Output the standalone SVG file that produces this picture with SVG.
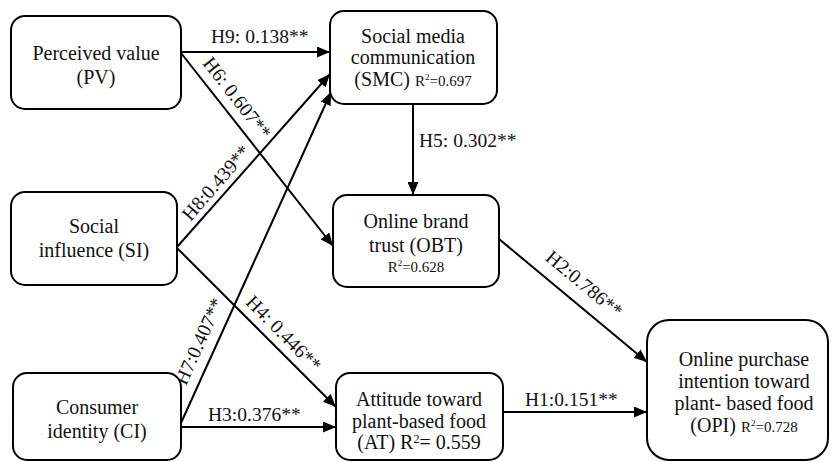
<svg xmlns="http://www.w3.org/2000/svg" width="832" height="462" viewBox="0 0 832 462">
  <style>
    .box { fill: #fff; stroke: #000; stroke-width: 2; }
    text { font-family: 'Liberation Serif', 'Times New Roman', 'DejaVu Serif', serif; font-size: 20px; fill: #111; }
    .t { text-anchor: middle; }
    .lbl { font-size: 19.5px; }
    .sm { font-size: 15px; }
    .edge { stroke: #000; stroke-width: 2; fill: none; marker-end: url(#arrow); }
  </style>
  <defs>
    <marker id="arrow" markerUnits="userSpaceOnUse" markerWidth="13" markerHeight="11" refX="13" refY="5.5" orient="auto">
      <path d="M0,0 L13,5.5 L0,11 z" fill="#000"/>
    </marker>
  </defs>
  <rect width="832" height="462" fill="#fff"/>

  <!-- path connectors with their coefficient labels -->
  <g id="connectors">
    <path class="edge" d="M181,52 L330,52"/>
    <path class="edge" d="M181,53 L333,246"/>
    <path class="edge" d="M177,247 L330,74"/>
    <path class="edge" d="M181,423 L331,92"/>
    <path class="edge" d="M177,248 L336,407"/>
    <path class="edge" d="M181,427 L336,427"/>
    <path class="edge" d="M413,104 L413,195"/>
    <path class="edge" d="M499,239 L647,362"/>
    <path class="edge" d="M503,412 L647,412"/>

    <text class="lbl" x="211" y="43">H9: 0.138**</text>
    <text class="lbl" text-anchor="middle" transform="translate(232,102) rotate(52)">H6: 0.607**</text>
    <text class="lbl" text-anchor="middle" transform="translate(221,187) rotate(-49)">H8:0.439**</text>
    <text class="lbl" text-anchor="middle" transform="translate(205,344) rotate(-65.7)">H7:0.407**</text>
    <text class="lbl" text-anchor="middle" transform="translate(279,338) rotate(45.4)">H4: 0.446**</text>
    <text class="lbl" x="208" y="421">H3:0.376**</text>
    <text class="lbl" x="419" y="147">H5: 0.302**</text>
    <text class="lbl" text-anchor="middle" transform="translate(580,289) rotate(39.7)">H2:0.786**</text>
    <text class="lbl" x="525" y="406">H1:0.151**</text>
  </g>

  <g id="PV">
    <rect class="box" x="11" y="16" width="170" height="93" rx="14"/>
    <text class="t" x="96" y="60">Perceived value</text>
    <text class="t" x="96" y="84">(PV)</text>
  </g>

  <g id="SMC">
    <rect class="box" x="330" y="11" width="167" height="93" rx="14"/>
    <text class="t" x="413" y="43" font-size="18.5">Social media</text>
    <text class="t" x="413" y="64" font-size="18.5">communication</text>
    <text class="t" x="413" y="86" font-size="18.5">(SMC) <tspan class="sm">R<tspan font-size="9" dy="-6">2</tspan><tspan dy="6">=0.697</tspan></tspan></text>
  </g>

  <g id="SI">
    <rect class="box" x="11" y="192" width="166" height="93" rx="14"/>
    <text class="t" x="94" y="233">Social</text>
    <text class="t" x="94" y="257">influence (SI)</text>
  </g>

  <g id="OBT">
    <rect class="box" x="333" y="195" width="166" height="92" rx="14"/>
    <text class="t" x="416" y="228">Online brand</text>
    <text class="t" x="416" y="252">trust (OBT)</text>
    <text class="t sm" x="416" y="272">R<tspan font-size="9" dy="-6">2</tspan><tspan dy="6">=0.628</tspan></text>
  </g>

  <g id="CI">
    <rect class="box" x="13" y="373" width="168" height="87" rx="14"/>
    <text class="t" x="97" y="414">Consumer</text>
    <text class="t" x="97" y="438">identity (CI)</text>
  </g>

  <g id="AT">
    <rect class="box" x="336" y="373" width="167" height="87" rx="14"/>
    <text class="t" x="419" y="406" font-size="18">Attitude toward</text>
    <text class="t" x="419" y="428" font-size="18">plant-based food</text>
    <text class="t" x="419" y="449" font-size="18">(AT) R<tspan font-size="12" dy="-6">2</tspan><tspan dy="6">= 0.559</tspan></text>
  </g>

  <g id="OPI">
    <rect class="box" x="647" y="320" width="181" height="140" rx="22"/>
    <text class="t" x="744" y="366">Online purchase</text>
    <text class="t" x="744" y="388">intention toward</text>
    <text class="t" x="744" y="410">plant- based food</text>
    <text class="t" x="744" y="432">(OPI) <tspan class="sm">R<tspan font-size="9" dy="-6">2</tspan><tspan dy="6">=0.728</tspan></tspan></text>
  </g>
</svg>
